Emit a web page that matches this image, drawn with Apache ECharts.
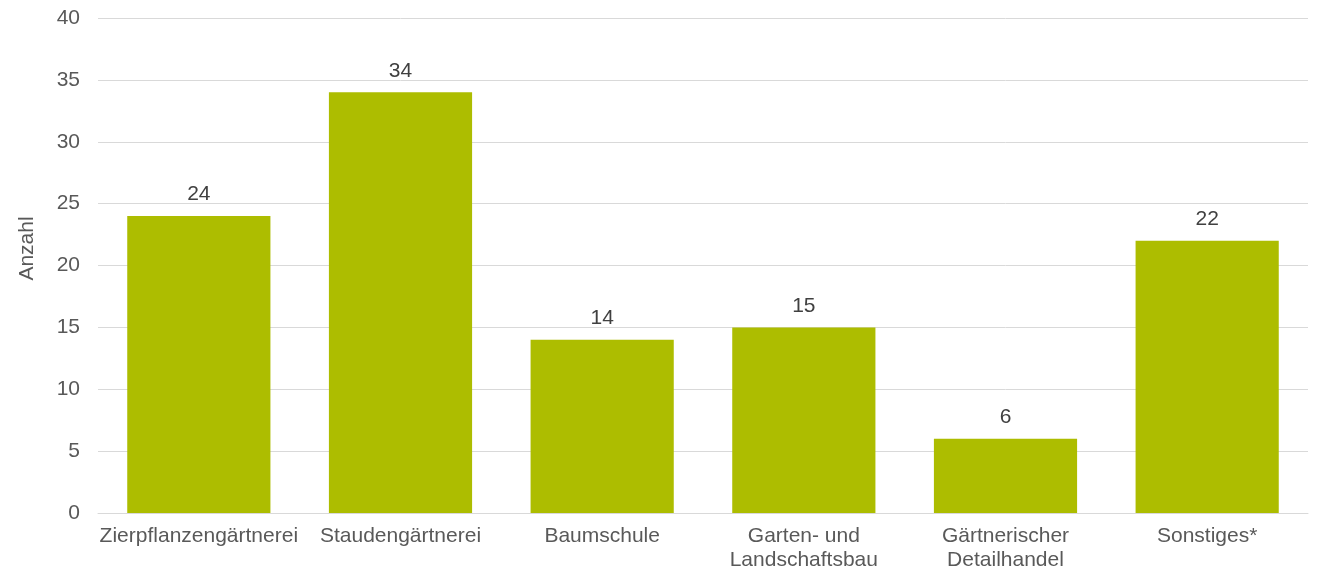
<!DOCTYPE html>
<html>
<head>
<meta charset="utf-8">
<script src="https://cdn.jsdelivr.net/npm/echarts@6/dist/echarts.min.js"></script>
<style>html,body{margin:0;padding:0;background:#fff}#c{width:1317px;height:573px}</style>
</head>
<body>
<div id="c"></div>
<script>
const categories = ['Zierpflanzengärtnerei', 'Staudengärtnerei', 'Baumschule', 'Garten- und\nLandschaftsbau', 'Gärtnerischer\nDetailhandel', 'Sonstiges*'];
const values = [24, 34, 14, 15, 6, 22];
const yAxisName = 'Anzahl';

const chart = echarts.init(document.getElementById('c'), null, {renderer: 'canvas'});
const font = '"Liberation Sans", Arial, sans-serif';
chart.setOption({
  animation: false,
  textStyle: {fontFamily: font},
  grid: {left: 98, right: 9, top: 18, bottom: 60, containLabel: false},
  xAxis: {
    type: 'category',
    data: categories,
    axisLine: {show: true, lineStyle: {color: '#d9d9d9', width: 1}},
    axisTick: {show: false},
    axisLabel: {color: '#595959', fontSize: 21, fontFamily: font, margin: 11, interval: 0, lineHeight: 24}
  },
  yAxis: {
    type: 'value',
    min: 0, max: 40, interval: 5,
    name: yAxisName,
    nameLocation: 'middle',
    nameGap: 60,
    nameTextStyle: {color: '#595959', fontSize: 21, fontFamily: font, padding: [0, 0, 0, 34]},
    axisLine: {show: false},
    axisTick: {show: false},
    axisLabel: {color: '#595959', fontSize: 21, fontFamily: font, margin: 18},
    splitLine: {lineStyle: {color: '#d9d9d9', width: 1}}
  },
  series: [{
    type: 'bar',
    data: values,
    barWidth: '71%',
    itemStyle: {color: '#ADBD00'},
    label: {show: true, position: 'top', color: '#404040', fontSize: 21, fontFamily: font, distance: 11}
  }]
});
</script>
</body>
</html>
